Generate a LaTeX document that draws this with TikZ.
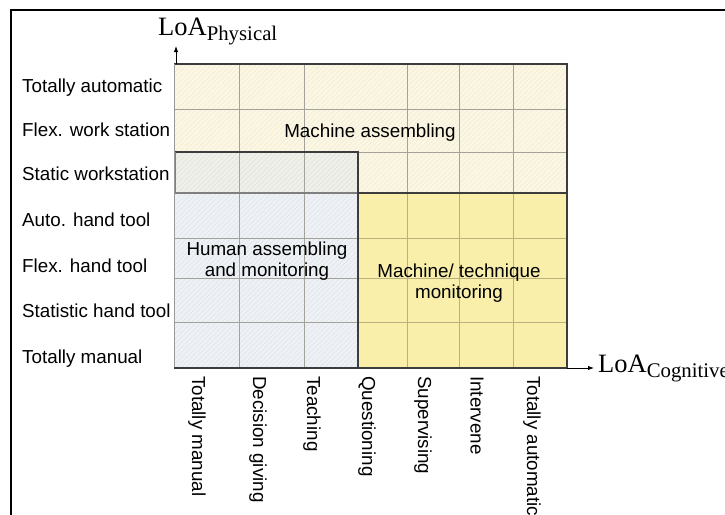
\documentclass[tikz,border=0pt]{standalone}
\usepackage{fontspec}
\setmainfont{Liberation Sans}
\newfontfamily\timesfont{Liberation Serif}
\usetikzlibrary{arrows.meta,patterns.meta}

\definecolor{creamfill}{HTML}{FBF7E4}
\definecolor{creamhatch}{HTML}{F0EBD0}
\definecolor{grayfill}{HTML}{F0F0EB}
\definecolor{grayhatch}{HTML}{E0E0D8}
\definecolor{bluefill}{HTML}{EEF2F6}
\definecolor{bluehatch}{HTML}{DEE3E8}
\definecolor{yellowfill}{HTML}{F9EFAA}
\definecolor{gridgray}{HTML}{A3A39B}
\definecolor{gridolive}{HTML}{B9B27E}
\definecolor{edgedark}{HTML}{3C3C3C}

\tikzset{
  lbl/.style={inner sep=0pt, font=\fontsize{18.8}{21.5}\selectfont},
  rowlbl/.style={lbl, anchor=base west},
  collbl/.style={lbl, rotate=-90, anchor=west},
  arealbl/.style={lbl, align=center},
  hatch/.style={pattern={Lines[angle=45,distance=3.5pt,line width=0.5pt]}},
  gridline/.style={draw=gridgray, line width=0.8pt},
  boxedge/.style={draw=edgedark, line width=1.5pt},
  axis/.style={draw=black, line width=1pt, -{Latex[length=6pt,width=4.5pt]}},
}

\begin{document}
\begin{tikzpicture}[x=1pt,y=-1pt]
  \path[use as bounding box] (0,0) rectangle (725,514);
  \clip (0,0) rectangle (725,514);

  % outer frame
  \draw[line width=1.3pt] (11,10) rectangle (760,560);

  % area fills
  \fill[creamfill] (174,64) rectangle (567,193);
  \fill[hatch, pattern color=creamhatch] (174,64) rectangle (567,193);
  \fill[grayfill] (174,152) rectangle (358,193);
  \fill[hatch, pattern color=grayhatch] (174,152) rectangle (358,193);
  \fill[bluefill] (174,193) rectangle (358,368);
  \fill[hatch, pattern color=bluehatch] (174,193) rectangle (358,368);
  \fill[yellowfill] (358,193) rectangle (567,368);

  % grid
  \foreach \gx in {239,304} \draw[gridline] (\gx,64) -- (\gx,368);
  \foreach \gx in {407,459,513} {
    \draw[gridline] (\gx,64) -- (\gx,193);
    \draw[gridline, draw=gridolive] (\gx,193) -- (\gx,368);
  }
  \foreach \gy in {109,152} \draw[gridline] (174,\gy) -- (567,\gy);
  \foreach \gy in {238,278,322} {
    \draw[gridline] (174,\gy) -- (358,\gy);
    \draw[gridline, draw=gridolive] (358,\gy) -- (567,\gy);
  }

  % area outlines
  \draw[boxedge] (174,64) -- (567,64) -- (567,193);
  \draw[boxedge] (174,152) -- (358,152) -- (358,193);
  \draw[draw=gray, line width=2pt] (175,152) -- (175,193) -- (358,193);
  \draw[boxedge, line width=1.2pt] (358,193) rectangle (567,368);
  \draw[draw=gray!80, line width=1pt] (174,64) -- (174,368);

  % axes
  \coordinate (origin) at (174,368);
  \coordinate (ytop) at (176,64);
  \coordinate (ytip) at (176,46);
  \coordinate (xend) at (567,368);
  \coordinate (xtip) at (594,368);
  \draw[draw=edgedark, line width=2pt] (origin) -- (xend);
  \draw[axis] (ytop) -- (ytip);
  \draw[axis] (xend) -- (xtip);

  \node[inner sep=0pt, anchor=base west] (yname) at (158,35)
    {\timesfont\fontsize{26.5}{26.5}\selectfont LoA\raisebox{-5.5pt}{\fontsize{20.8}{20.8}\selectfont Physical}};
  \node[inner sep=0pt, anchor=base west] (xname) at (598,372)
    {\timesfont\fontsize{26.5}{26.5}\selectfont LoA\raisebox{-5.5pt}{\fontsize{20.8}{20.8}\selectfont Cognitive}};

  % physical levels
  \node[rowlbl] (p7) at (22,92)  {Totally automatic};
  \node[rowlbl] (p6) at (22,136) {Flex. work station};
  \node[rowlbl] (p5) at (22,180) {Static workstation};
  \node[rowlbl] (p4) at (22,226) {Auto. hand tool};
  \node[rowlbl] (p3) at (22,272) {Flex. hand tool};
  \node[rowlbl] (p2) at (22,317) {Statistic hand tool};
  \node[rowlbl] (p1) at (22,363) {Totally manual};

  % cognitive levels
  \node[collbl] (c1) at (197,376) {Totally manual};
  \node[collbl] (c2) at (258,376) {Decision giving};
  \node[collbl] (c3) at (312,376) {Teaching};
  \node[collbl] (c4) at (367,376) {Questioning};
  \node[collbl] (c5) at (423,376) {Supervising};
  \node[collbl] (c6) at (477,376) {Intervene};
  \node[collbl] (c7) at (532,376) {Totally automatic};

  % area names
  \node[lbl, anchor=base] (machasm) at (370,137) {Machine assembling};
  \node[arealbl] (humasm) at (267,261) {Human assembling\\and monitoring};
  \node[arealbl] (machmon) at (459,283) {Machine/ technique\\monitoring};
\end{tikzpicture}
\end{document}
